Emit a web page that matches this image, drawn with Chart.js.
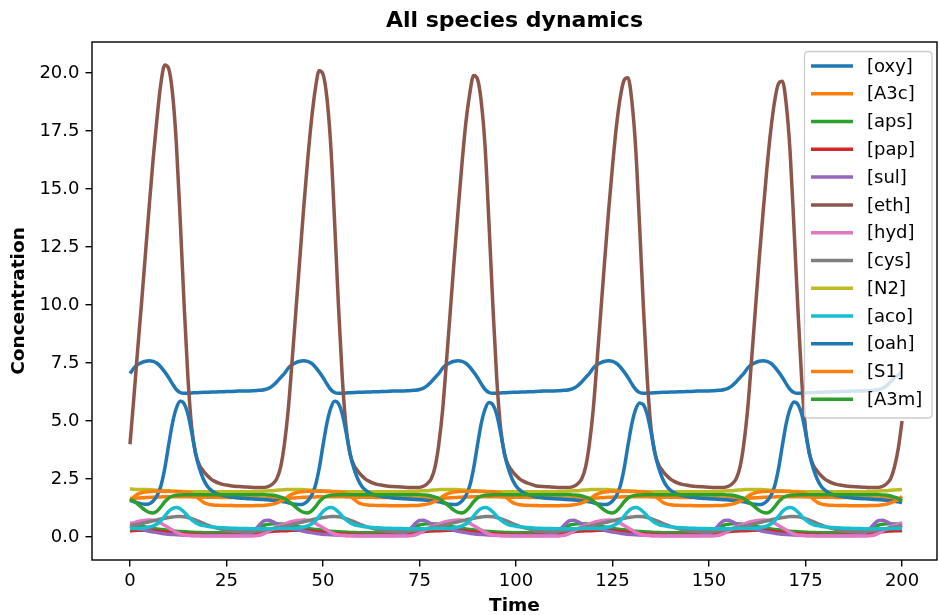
<!DOCTYPE html>
<html><head><meta charset="utf-8">
<script src="https://cdn.jsdelivr.net/npm/chart.js@4.4.1/dist/chart.umd.min.js"></script>
<style>html,body{margin:0;padding:0;background:#fff;}#wrap{width:939px;height:615px;position:relative;}</style>
</head><body><div id="wrap"><canvas id="c" width="939" height="615"></canvas></div>
<script>
const time = [
0,1,2,3,4,5,6,7,8,9,10,11,12,13,14,15,16,17,18,19,
20,21,22,23,24,25,26,27,28,29,30,31,32,33,34,35,36,37,38,39,
40,41,42,43,44,45,46,47,48,49,50,51,52,53,54,55,56,57,58,59,
60,61,62,63,64,65,66,67,68,69,70,71,72,73,74,75,76,77,78,79,
80,81,82,83,84,85,86,87,88,89,90,91,92,93,94,95,96,97,98,99,
100,101,102,103,104,105,106,107,108,109,110,111,112,113,114,115,116,117,118,119,
120,121,122,123,124,125,126,127,128,129,130,131,132,133,134,135,136,137,138,139,
140,141,142,143,144,145,146,147,148,149,150,151,152,153,154,155,156,157,158,159,
160,161,162,163,164,165,166,167,168,169,170,171,172,173,174,175,176,177,178,179,
180,181,182,183,184,185,186,187,188,189,190,191,192,193,194,195,196,197,198,199,
200];
const xTicks = [0,25,50,75,100,125,150,175,200];
const yTicks = [0,2.5,5,7.5,10,12.5,15,17.5,20];
const seriesNames = ['[oxy]','[A3c]','[aps]','[pap]','[sul]','[eth]','[hyd]','[cys]','[N2]','[aco]','[oah]','[S1]','[A3m]'];

const oxy = [
7.05,7.28,7.43,7.52,7.58,7.6,7.57,7.49,7.33,7.12,6.88,6.6,6.36,6.23,6.2,6.2,6.21,6.22,6.23,6.24,6.24,6.25,6.25,6.26,6.26,6.27,6.27,6.28,6.29,6.29,6.3,6.3,6.31,6.32,6.33,6.36,6.42,6.53,6.68,6.87,
7.05,7.28,7.43,7.52,7.58,7.6,7.57,7.49,7.33,7.12,6.88,6.6,6.36,6.23,6.2,6.2,6.21,6.22,6.23,6.24,6.24,6.25,6.25,6.26,6.26,6.27,6.27,6.28,6.29,6.29,6.3,6.3,6.31,6.32,6.33,6.36,6.42,6.53,6.68,6.87,
7.05,7.28,7.43,7.52,7.58,7.6,7.57,7.49,7.33,7.12,6.88,6.6,6.36,6.23,6.2,6.2,6.21,6.22,6.23,6.24,6.24,6.25,6.25,6.26,6.26,6.27,6.28,6.29,6.29,6.3,6.3,6.31,6.32,6.33,6.36,6.42,6.53,6.68,6.87,
7.05,7.28,7.43,7.52,7.58,7.6,7.57,7.49,7.33,7.12,6.88,6.6,6.36,6.23,6.2,6.2,6.21,6.22,6.23,6.24,6.24,6.25,6.25,6.26,6.26,6.27,6.27,6.28,6.29,6.29,6.3,6.3,6.31,6.32,6.33,6.36,6.42,6.53,6.68,6.87,
7.05,7.28,7.43,7.52,7.58,7.6,7.57,7.49,7.33,7.12,6.88,6.6,6.36,6.23,6.2,6.2,6.21,6.22,6.23,6.24,6.24,6.25,6.25,6.26,6.26,6.27,6.27,6.28,6.29,6.29,6.3,6.3,6.31,6.32,6.33,6.36,6.42,6.53,6.68,6.87,6.98,7.17];

const A3c = [
1.66,1.67,1.68,1.69,1.7,1.71,1.72,1.73,1.73,1.74,1.74,1.74,1.74,1.74,1.74,1.74,1.73,1.73,1.72,1.72,1.72,1.71,1.71,1.71,1.7,1.7,1.7,1.7,1.69,1.69,1.69,1.68,1.68,1.68,1.67,1.67,1.67,1.66,1.66,1.66,
1.66,1.67,1.68,1.69,1.7,1.71,1.72,1.73,1.73,1.74,1.74,1.74,1.74,1.74,1.74,1.74,1.73,1.73,1.72,1.72,1.72,1.71,1.71,1.71,1.7,1.7,1.7,1.7,1.69,1.69,1.69,1.68,1.68,1.68,1.67,1.67,1.67,1.66,1.66,1.66,
1.66,1.67,1.68,1.69,1.7,1.71,1.72,1.73,1.73,1.74,1.74,1.74,1.74,1.74,1.74,1.74,1.73,1.73,1.72,1.72,1.72,1.71,1.71,1.71,1.7,1.7,1.7,1.69,1.69,1.69,1.68,1.68,1.68,1.67,1.67,1.67,1.66,1.66,1.66,
1.66,1.67,1.68,1.69,1.7,1.71,1.72,1.73,1.73,1.74,1.74,1.74,1.74,1.74,1.74,1.74,1.73,1.73,1.72,1.72,1.72,1.71,1.71,1.71,1.7,1.7,1.7,1.7,1.69,1.69,1.69,1.68,1.68,1.68,1.67,1.67,1.67,1.66,1.66,1.66,
1.66,1.67,1.68,1.69,1.7,1.71,1.72,1.73,1.73,1.74,1.74,1.74,1.74,1.74,1.74,1.74,1.73,1.73,1.72,1.72,1.72,1.71,1.71,1.71,1.7,1.7,1.7,1.7,1.69,1.69,1.69,1.68,1.68,1.68,1.67,1.67,1.67,1.66,1.66,1.66,1.66,1.67];

const aps = [
0.55,0.52,0.49,0.46,0.43,0.4,0.37,0.35,0.33,0.31,0.29,0.27,0.25,0.24,0.23,0.22,0.21,0.2,0.2,0.19,0.19,0.19,0.19,0.19,0.19,0.19,0.2,0.2,0.21,0.22,0.24,0.27,0.32,0.39,0.46,0.52,0.55,0.57,0.57,0.56,
0.55,0.52,0.49,0.46,0.43,0.4,0.37,0.35,0.33,0.31,0.29,0.27,0.25,0.24,0.23,0.22,0.21,0.2,0.2,0.19,0.19,0.19,0.19,0.19,0.19,0.19,0.2,0.2,0.21,0.22,0.24,0.27,0.32,0.39,0.46,0.52,0.55,0.57,0.57,0.56,
0.55,0.52,0.49,0.46,0.43,0.4,0.37,0.35,0.33,0.31,0.29,0.27,0.25,0.24,0.23,0.22,0.21,0.2,0.2,0.19,0.19,0.19,0.19,0.19,0.19,0.2,0.2,0.21,0.22,0.24,0.27,0.32,0.39,0.46,0.52,0.55,0.57,0.57,0.56,
0.55,0.52,0.49,0.46,0.43,0.4,0.37,0.35,0.33,0.31,0.29,0.27,0.25,0.24,0.23,0.22,0.21,0.2,0.2,0.19,0.19,0.19,0.19,0.19,0.19,0.19,0.2,0.2,0.21,0.22,0.24,0.27,0.32,0.39,0.46,0.52,0.55,0.57,0.57,0.56,
0.55,0.52,0.49,0.46,0.43,0.4,0.37,0.35,0.33,0.31,0.29,0.27,0.25,0.24,0.23,0.22,0.21,0.2,0.2,0.19,0.19,0.19,0.19,0.19,0.19,0.19,0.2,0.2,0.21,0.22,0.24,0.27,0.32,0.39,0.46,0.52,0.55,0.57,0.57,0.56,0.55,0.52];

const pap = [
0.27,0.28,0.29,0.29,0.29,0.28,0.27,0.26,0.24,0.22,0.2,0.18,0.17,0.15,0.14,0.13,0.12,0.11,0.1,0.1,0.09,0.09,0.09,0.09,0.09,0.09,0.09,0.09,0.09,0.09,0.09,0.1,0.12,0.15,0.18,0.21,0.23,0.25,0.26,0.27,
0.27,0.28,0.29,0.29,0.29,0.28,0.27,0.26,0.24,0.22,0.2,0.18,0.17,0.15,0.14,0.13,0.12,0.11,0.1,0.1,0.09,0.09,0.09,0.09,0.09,0.09,0.09,0.09,0.09,0.09,0.09,0.1,0.12,0.15,0.18,0.21,0.23,0.25,0.26,0.27,
0.27,0.28,0.29,0.29,0.29,0.28,0.27,0.26,0.24,0.22,0.2,0.18,0.17,0.15,0.14,0.13,0.12,0.11,0.1,0.1,0.09,0.09,0.09,0.09,0.09,0.09,0.09,0.09,0.09,0.09,0.1,0.12,0.15,0.18,0.21,0.23,0.25,0.26,0.27,
0.27,0.28,0.29,0.29,0.29,0.28,0.27,0.26,0.24,0.22,0.2,0.18,0.17,0.15,0.14,0.13,0.12,0.11,0.1,0.1,0.09,0.09,0.09,0.09,0.09,0.09,0.09,0.09,0.09,0.09,0.09,0.1,0.12,0.15,0.18,0.21,0.23,0.25,0.26,0.27,
0.27,0.28,0.29,0.29,0.29,0.28,0.27,0.26,0.24,0.22,0.2,0.18,0.17,0.15,0.14,0.13,0.12,0.11,0.1,0.1,0.09,0.09,0.09,0.09,0.09,0.09,0.09,0.09,0.09,0.09,0.09,0.1,0.12,0.15,0.18,0.21,0.23,0.25,0.26,0.27,0.27,0.28];

const sul = [
0.46,0.41,0.37,0.33,0.29,0.25,0.22,0.19,0.16,0.14,0.12,0.11,0.1,0.09,0.08,0.08,0.07,0.07,0.07,0.07,0.07,0.07,0.07,0.07,0.07,0.07,0.07,0.07,0.07,0.08,0.1,0.15,0.25,0.42,0.6,0.71,0.72,0.66,0.58,0.51,
0.46,0.41,0.37,0.33,0.29,0.25,0.22,0.19,0.16,0.14,0.12,0.11,0.1,0.09,0.08,0.08,0.07,0.07,0.07,0.07,0.07,0.07,0.07,0.07,0.07,0.07,0.07,0.07,0.07,0.08,0.1,0.15,0.25,0.42,0.6,0.71,0.72,0.66,0.58,0.51,
0.46,0.41,0.37,0.33,0.29,0.25,0.22,0.19,0.16,0.14,0.12,0.11,0.1,0.09,0.08,0.08,0.07,0.07,0.07,0.07,0.07,0.07,0.07,0.07,0.07,0.07,0.07,0.07,0.08,0.1,0.15,0.25,0.42,0.6,0.71,0.72,0.66,0.58,0.51,
0.46,0.41,0.37,0.33,0.29,0.25,0.22,0.19,0.16,0.14,0.12,0.11,0.1,0.09,0.08,0.08,0.07,0.07,0.07,0.07,0.07,0.07,0.07,0.07,0.07,0.07,0.07,0.07,0.07,0.08,0.1,0.15,0.25,0.42,0.6,0.71,0.72,0.66,0.58,0.51,
0.46,0.41,0.37,0.33,0.29,0.25,0.22,0.19,0.16,0.14,0.12,0.11,0.1,0.09,0.08,0.08,0.07,0.07,0.07,0.07,0.07,0.07,0.07,0.07,0.07,0.07,0.07,0.07,0.07,0.08,0.1,0.15,0.25,0.42,0.6,0.71,0.72,0.66,0.58,0.51,0.46,0.41];

const eth = [
4.0,6.0,8.1,10.1,12.2,14.3,16.3,18.05,19.55,20.35,20.2,19.15,17.0,13.7,10.1,6.9,4.7,3.6,3.1,2.85,2.65,2.5,2.4,2.32,2.27,2.24,2.21,2.19,2.18,2.17,2.16,2.15,2.14,2.13,2.13,2.14,2.19,2.3,2.5,3.0,
4.0,5.5,7.6,9.8,12.0,14.2,16.2,17.95,19.3,20.1,19.95,18.95,16.9,13.6,10.0,6.85,4.7,3.6,3.1,2.85,2.65,2.5,2.4,2.32,2.27,2.24,2.21,2.19,2.18,2.17,2.16,2.15,2.14,2.13,2.13,2.14,2.19,2.3,2.5,3.0,
4.0,5.5,7.6,9.8,12.0,14.1,16.1,17.85,19.1,19.9,19.75,18.75,16.8,13.5,10.0,6.85,4.7,3.6,3.1,2.85,2.65,2.5,2.4,2.32,2.27,2.21,2.19,2.18,2.17,2.16,2.15,2.14,2.13,2.13,2.14,2.19,2.3,2.5,3.0,
4.0,5.5,7.6,9.8,12.0,14.1,16.0,17.7,18.95,19.7,19.8,18.8,16.75,13.45,9.9,6.8,4.65,3.6,3.1,2.85,2.65,2.5,2.4,2.32,2.27,2.24,2.21,2.19,2.18,2.17,2.16,2.15,2.14,2.13,2.13,2.14,2.19,2.3,2.5,3.0,
4.0,5.5,7.6,9.8,12.0,14.0,15.9,17.55,18.8,19.55,19.65,18.65,16.6,13.35,9.9,6.8,4.65,3.6,3.1,2.85,2.65,2.5,2.4,2.32,2.27,2.24,2.21,2.19,2.18,2.17,2.16,2.15,2.14,2.13,2.13,2.14,2.19,2.3,2.5,3.0,3.8,5.0];

const hyd = [
0.59,0.62,0.67,0.7,0.72,0.73,0.72,0.68,0.6,0.5,0.4,0.3,0.2,0.13,0.09,0.07,0.06,0.05,0.05,0.04,0.04,0.04,0.04,0.04,0.04,0.04,0.04,0.04,0.04,0.04,0.04,0.04,0.04,0.06,0.1,0.17,0.26,0.35,0.43,0.5,
0.55,0.62,0.67,0.7,0.72,0.73,0.72,0.68,0.6,0.5,0.4,0.3,0.2,0.13,0.09,0.07,0.06,0.05,0.05,0.04,0.04,0.04,0.04,0.04,0.04,0.04,0.04,0.04,0.04,0.04,0.04,0.04,0.04,0.06,0.1,0.17,0.26,0.35,0.43,0.5,
0.55,0.62,0.67,0.7,0.72,0.73,0.72,0.68,0.6,0.5,0.4,0.3,0.2,0.13,0.09,0.07,0.06,0.05,0.05,0.04,0.04,0.04,0.04,0.04,0.04,0.04,0.04,0.04,0.04,0.04,0.04,0.04,0.06,0.1,0.17,0.26,0.35,0.43,0.5,
0.55,0.62,0.67,0.7,0.72,0.73,0.72,0.68,0.6,0.5,0.4,0.3,0.2,0.13,0.09,0.07,0.06,0.05,0.05,0.04,0.04,0.04,0.04,0.04,0.04,0.04,0.04,0.04,0.04,0.04,0.04,0.04,0.04,0.06,0.1,0.17,0.26,0.35,0.43,0.5,
0.55,0.62,0.67,0.7,0.72,0.73,0.72,0.68,0.6,0.5,0.4,0.3,0.2,0.13,0.09,0.07,0.06,0.05,0.05,0.04,0.04,0.04,0.04,0.04,0.04,0.04,0.04,0.04,0.04,0.04,0.04,0.04,0.04,0.06,0.1,0.17,0.26,0.35,0.43,0.5,0.55,0.62];

const cys = [
0.5,0.52,0.55,0.58,0.62,0.66,0.7,0.74,0.78,0.81,0.84,0.86,0.88,0.88,0.87,0.84,0.79,0.73,0.66,0.59,0.52,0.46,0.41,0.36,0.32,0.29,0.27,0.25,0.24,0.23,0.23,0.23,0.24,0.26,0.28,0.31,0.34,0.37,0.4,0.43,
0.46,0.5,0.54,0.58,0.62,0.66,0.7,0.74,0.78,0.81,0.84,0.86,0.88,0.88,0.87,0.84,0.79,0.73,0.66,0.59,0.52,0.46,0.41,0.36,0.32,0.29,0.27,0.25,0.24,0.23,0.23,0.23,0.24,0.26,0.28,0.31,0.34,0.37,0.4,0.43,
0.46,0.5,0.54,0.58,0.62,0.66,0.7,0.74,0.78,0.81,0.84,0.86,0.88,0.88,0.87,0.84,0.79,0.73,0.66,0.59,0.52,0.46,0.41,0.36,0.32,0.27,0.25,0.24,0.23,0.23,0.23,0.24,0.26,0.28,0.31,0.34,0.37,0.4,0.43,
0.46,0.5,0.54,0.58,0.62,0.66,0.7,0.74,0.78,0.81,0.84,0.86,0.88,0.88,0.87,0.84,0.79,0.73,0.66,0.59,0.52,0.46,0.41,0.36,0.32,0.29,0.27,0.25,0.24,0.23,0.23,0.23,0.24,0.26,0.28,0.31,0.34,0.37,0.4,0.43,
0.46,0.5,0.54,0.58,0.62,0.66,0.7,0.74,0.78,0.81,0.84,0.86,0.88,0.88,0.87,0.84,0.79,0.73,0.66,0.59,0.52,0.46,0.41,0.36,0.32,0.29,0.27,0.25,0.24,0.23,0.23,0.23,0.24,0.26,0.28,0.31,0.34,0.37,0.4,0.43,0.46,0.5];

const N2 = [
2.08,2.06,2.05,2.05,2.05,2.04,2.03,2.02,2.01,2.0,1.99,1.98,1.97,1.96,1.96,1.95,1.95,1.95,1.95,1.95,1.95,1.95,1.95,1.95,1.95,1.95,1.95,1.95,1.95,1.95,1.95,1.95,1.96,1.96,1.97,1.98,1.99,2.0,2.02,2.03,
2.04,2.05,2.05,2.05,2.05,2.04,2.03,2.02,2.01,2.0,1.99,1.98,1.97,1.96,1.96,1.95,1.95,1.95,1.95,1.95,1.95,1.95,1.95,1.95,1.95,1.95,1.95,1.95,1.95,1.95,1.95,1.95,1.96,1.96,1.97,1.98,1.99,2.0,2.02,2.03,
2.04,2.05,2.05,2.05,2.05,2.04,2.03,2.02,2.01,2.0,1.99,1.98,1.97,1.96,1.96,1.95,1.95,1.95,1.95,1.95,1.95,1.95,1.95,1.95,1.95,1.95,1.95,1.95,1.95,1.95,1.95,1.96,1.96,1.97,1.98,1.99,2.0,2.02,2.03,
2.04,2.05,2.05,2.05,2.05,2.04,2.03,2.02,2.01,2.0,1.99,1.98,1.97,1.96,1.96,1.95,1.95,1.95,1.95,1.95,1.95,1.95,1.95,1.95,1.95,1.95,1.95,1.95,1.95,1.95,1.95,1.95,1.96,1.96,1.97,1.98,1.99,2.0,2.02,2.03,
2.04,2.05,2.05,2.05,2.05,2.04,2.03,2.02,2.01,2.0,1.99,1.98,1.97,1.96,1.96,1.95,1.95,1.95,1.95,1.95,1.95,1.95,1.95,1.95,1.95,1.95,1.95,1.95,1.95,1.95,1.95,1.95,1.96,1.96,1.97,1.98,1.99,2.0,2.02,2.03,2.04,2.05];

const aco = [
0.37,0.37,0.37,0.38,0.4,0.43,0.48,0.56,0.7,0.9,1.1,1.23,1.27,1.22,1.08,0.9,0.74,0.62,0.54,0.49,0.46,0.44,0.42,0.41,0.4,0.39,0.38,0.38,0.37,0.37,0.37,0.36,0.36,0.36,0.36,0.36,0.36,0.36,0.36,0.37,
0.37,0.37,0.37,0.38,0.4,0.43,0.48,0.56,0.7,0.9,1.1,1.23,1.27,1.22,1.08,0.9,0.74,0.62,0.54,0.49,0.46,0.44,0.42,0.41,0.4,0.39,0.38,0.38,0.37,0.37,0.37,0.36,0.36,0.36,0.36,0.36,0.36,0.36,0.36,0.37,
0.37,0.37,0.37,0.38,0.4,0.43,0.48,0.56,0.7,0.9,1.1,1.23,1.27,1.22,1.08,0.9,0.74,0.62,0.54,0.49,0.46,0.44,0.42,0.41,0.4,0.38,0.38,0.37,0.37,0.37,0.36,0.36,0.36,0.36,0.36,0.36,0.36,0.36,0.37,
0.37,0.37,0.37,0.38,0.4,0.43,0.48,0.56,0.7,0.9,1.1,1.23,1.27,1.22,1.08,0.9,0.74,0.62,0.54,0.49,0.46,0.44,0.42,0.41,0.4,0.39,0.38,0.38,0.37,0.37,0.37,0.36,0.36,0.36,0.36,0.36,0.36,0.36,0.36,0.37,
0.37,0.37,0.37,0.38,0.4,0.43,0.48,0.56,0.7,0.9,1.1,1.23,1.27,1.22,1.08,0.9,0.74,0.62,0.54,0.49,0.46,0.44,0.42,0.41,0.4,0.39,0.38,0.38,0.37,0.37,0.37,0.36,0.36,0.36,0.36,0.36,0.36,0.36,0.36,0.37,0.37,0.37];

const oah = [
1.58,1.52,1.47,1.43,1.41,1.43,1.55,1.78,2.2,2.95,3.95,4.9,5.55,5.85,5.75,5.3,4.5,3.6,2.95,2.5,2.2,2.02,1.91,1.84,1.79,1.76,1.73,1.71,1.69,1.67,1.66,1.65,1.64,1.63,1.62,1.61,1.6,1.58,1.56,1.54,
1.52,1.48,1.44,1.41,1.4,1.43,1.55,1.78,2.2,2.95,3.95,4.9,5.55,5.85,5.75,5.3,4.5,3.6,2.95,2.5,2.2,2.02,1.91,1.84,1.79,1.76,1.73,1.71,1.69,1.67,1.66,1.65,1.64,1.63,1.62,1.61,1.6,1.58,1.56,1.54,
1.52,1.48,1.44,1.41,1.4,1.43,1.55,1.78,2.2,2.95,3.95,4.9,5.52,5.8,5.7,5.28,4.5,3.6,2.95,2.5,2.2,2.02,1.91,1.84,1.79,1.73,1.71,1.69,1.67,1.66,1.65,1.64,1.63,1.62,1.61,1.6,1.58,1.56,1.54,
1.52,1.48,1.44,1.41,1.4,1.43,1.55,1.78,2.2,2.95,3.95,4.88,5.5,5.78,5.7,5.27,4.5,3.6,2.95,2.5,2.2,2.02,1.91,1.84,1.79,1.76,1.73,1.71,1.69,1.67,1.66,1.65,1.64,1.63,1.62,1.61,1.6,1.58,1.56,1.54,
1.52,1.48,1.44,1.41,1.4,1.43,1.55,1.78,2.2,2.95,3.95,4.9,5.53,5.82,5.72,5.3,4.5,3.6,2.95,2.5,2.2,2.02,1.91,1.84,1.79,1.76,1.73,1.71,1.69,1.67,1.66,1.65,1.64,1.63,1.62,1.61,1.6,1.58,1.56,1.54,1.52,1.48];

const S1 = [
1.55,1.72,1.85,1.91,1.94,1.96,1.97,1.97,1.97,1.97,1.97,1.96,1.96,1.95,1.94,1.93,1.88,1.78,1.63,1.5,1.43,1.39,1.37,1.37,1.36,1.36,1.36,1.35,1.35,1.35,1.35,1.35,1.35,1.36,1.36,1.37,1.39,1.42,1.47,1.54,
1.62,1.75,1.85,1.91,1.94,1.96,1.97,1.97,1.97,1.97,1.97,1.96,1.96,1.95,1.94,1.93,1.88,1.78,1.63,1.5,1.43,1.39,1.37,1.37,1.36,1.36,1.36,1.35,1.35,1.35,1.35,1.35,1.35,1.36,1.36,1.37,1.39,1.42,1.47,1.54,
1.62,1.75,1.85,1.91,1.94,1.96,1.97,1.97,1.97,1.97,1.97,1.96,1.96,1.95,1.94,1.93,1.88,1.78,1.63,1.5,1.43,1.39,1.37,1.37,1.36,1.36,1.35,1.35,1.35,1.35,1.35,1.35,1.36,1.36,1.37,1.39,1.42,1.47,1.54,
1.62,1.75,1.85,1.91,1.94,1.96,1.97,1.97,1.97,1.97,1.97,1.96,1.96,1.95,1.94,1.93,1.88,1.78,1.63,1.5,1.43,1.39,1.37,1.37,1.36,1.36,1.36,1.35,1.35,1.35,1.35,1.35,1.35,1.36,1.36,1.37,1.39,1.42,1.47,1.54,
1.62,1.75,1.85,1.91,1.94,1.96,1.97,1.97,1.97,1.97,1.97,1.96,1.96,1.95,1.94,1.93,1.88,1.78,1.63,1.5,1.43,1.39,1.37,1.37,1.36,1.36,1.36,1.35,1.35,1.35,1.35,1.35,1.35,1.36,1.36,1.37,1.39,1.42,1.47,1.54,1.62,1.75];

const A3m = [
1.62,1.55,1.42,1.28,1.15,1.06,1.04,1.12,1.3,1.52,1.68,1.76,1.8,1.81,1.82,1.82,1.82,1.82,1.82,1.82,1.82,1.82,1.82,1.82,1.82,1.82,1.82,1.82,1.82,1.82,1.82,1.82,1.82,1.82,1.82,1.82,1.81,1.8,1.77,1.72,
1.66,1.55,1.42,1.28,1.15,1.06,1.04,1.12,1.3,1.52,1.68,1.76,1.8,1.81,1.82,1.82,1.82,1.82,1.82,1.82,1.82,1.82,1.82,1.82,1.82,1.82,1.82,1.82,1.82,1.82,1.82,1.82,1.82,1.82,1.82,1.82,1.81,1.8,1.77,1.72,
1.66,1.55,1.42,1.28,1.15,1.06,1.04,1.12,1.3,1.52,1.68,1.76,1.8,1.81,1.82,1.82,1.82,1.82,1.82,1.82,1.82,1.82,1.82,1.82,1.82,1.82,1.82,1.82,1.82,1.82,1.82,1.82,1.82,1.82,1.82,1.81,1.8,1.77,1.72,
1.66,1.55,1.42,1.28,1.15,1.06,1.04,1.12,1.3,1.52,1.68,1.76,1.8,1.81,1.82,1.82,1.82,1.82,1.82,1.82,1.82,1.82,1.82,1.82,1.82,1.82,1.82,1.82,1.82,1.82,1.82,1.82,1.82,1.82,1.82,1.82,1.81,1.8,1.77,1.72,
1.66,1.55,1.42,1.28,1.15,1.06,1.04,1.12,1.3,1.52,1.68,1.76,1.8,1.81,1.82,1.82,1.82,1.82,1.82,1.82,1.82,1.82,1.82,1.82,1.82,1.82,1.82,1.82,1.82,1.82,1.82,1.82,1.82,1.82,1.82,1.82,1.81,1.8,1.77,1.72,1.66,1.55];

const seriesList = [oxy, A3c, aps, pap, sul, eth, hyd, cys, N2, aco, oah, S1, A3m];
const colors = ['#1f77b4','#ff7f0e','#2ca02c','#d62728','#9467bd','#8c564b','#e377c2','#7f7f7f','#bcbd22','#17becf','#1f77b4','#ff7f0e','#2ca02c'];
const FONT = "'DejaVu Sans', sans-serif";
const LW = 3.5;

const datasets = seriesList.map((s, i) => ({
  label: seriesNames[i],
  data: time.map((t, j) => ({x: t, y: s[j]})),
  borderColor: colors[i],
  backgroundColor: colors[i],
  borderWidth: LW,
  pointRadius: 0,
  pointHoverRadius: 0,
  fill: false,
  cubicInterpolationMode: 'monotone',
  borderJoinStyle: 'round',
  order: seriesList.length - i
}));

const framePlugin = {
  id: 'frame',
  afterDatasetsDraw(chart) {
    const {ctx, chartArea: a} = chart;
    ctx.save();
    ctx.strokeStyle = '#000';
    ctx.lineWidth = 1.4;
    ctx.strokeRect(a.left, a.top, a.right - a.left, a.bottom - a.top);
    ctx.restore();
  }
};

const titlePlugin = {
  id: 'mplTitle',
  afterDraw(chart) {
    const {ctx, chartArea: a} = chart;
    ctx.save();
    ctx.fillStyle = '#000';
    ctx.font = 'bold 22px ' + FONT;
    ctx.textAlign = 'center';
    ctx.textBaseline = 'middle';
    ctx.fillText('All species dynamics', (a.left + a.right) / 2, 21);
    ctx.restore();
  }
};

const legendPlugin = {
  id: 'mplLegend',
  afterDraw(chart) {
    const ctx = chart.ctx;
    ctx.save();
    const x0 = 804.5, y0 = 51.5, w = 127.5, h = 366.5, r = 4;
    ctx.beginPath();
    ctx.moveTo(x0 + r, y0);
    ctx.lineTo(x0 + w - r, y0);
    ctx.quadraticCurveTo(x0 + w, y0, x0 + w, y0 + r);
    ctx.lineTo(x0 + w, y0 + h - r);
    ctx.quadraticCurveTo(x0 + w, y0 + h, x0 + w - r, y0 + h);
    ctx.lineTo(x0 + r, y0 + h);
    ctx.quadraticCurveTo(x0, y0 + h, x0, y0 + h - r);
    ctx.lineTo(x0, y0 + r);
    ctx.quadraticCurveTo(x0, y0, x0 + r, y0);
    ctx.closePath();
    ctx.fillStyle = 'rgba(255,255,255,0.8)';
    ctx.fill();
    ctx.strokeStyle = '#cccccc';
    ctx.lineWidth = 1.3;
    ctx.stroke();
    ctx.font = '18px ' + FONT;
    ctx.textBaseline = 'middle';
    ctx.textAlign = 'left';
    for (let i = 0; i < seriesNames.length; i++) {
      const y = 66 + i * 27.78;
      ctx.beginPath();
      ctx.moveTo(811, y);
      ctx.lineTo(853, y);
      ctx.strokeStyle = colors[i];
      ctx.lineWidth = LW;
      ctx.stroke();
      ctx.fillStyle = '#000';
      ctx.fillText(seriesNames[i], 867, y + 1);
    }
    ctx.restore();
  }
};

new Chart(document.getElementById('c'), {
  type: 'line',
  data: { datasets },
  options: {
    responsive: false,
    animation: false,
    devicePixelRatio: 1,
    layout: { padding: { top: 42, right: 2, bottom: 0, left: 0 } },
    plugins: { legend: { display: false }, tooltip: { enabled: false }, title: { display: false } },
    scales: {
      x: {
        type: 'linear', min: -9.84, max: 209.05,
        afterBuildTicks: s => { s.ticks = xTicks.map(v => ({ value: v })); },
        afterFit: s => { s.height = 55; },
        grid: { display: true, drawOnChartArea: false, drawTicks: true, tickLength: 6.5, color: '#000', lineWidth: 1.4 },
        border: { display: false },
        ticks: { color: '#000', font: { family: FONT, size: 18 }, padding: 4, maxRotation: 0, autoSkip: false, callback: v => String(v) },
        title: { display: true, text: 'Time', color: '#000', font: { family: FONT, size: 18.5, weight: 'bold' }, padding: { top: 0, bottom: -2 } }
      },
      y: {
        type: 'linear', min: -0.99, max: 21.34,
        afterBuildTicks: s => { s.ticks = yTicks.map(v => ({ value: v })); },
        afterFit: s => { s.width = 92; },
        grid: { display: true, drawOnChartArea: false, drawTicks: true, tickLength: 6.5, color: '#000', lineWidth: 1.4 },
        border: { display: false },
        ticks: { color: '#000', font: { family: FONT, size: 18 }, padding: 6, autoSkip: false, callback: v => Number(v).toFixed(1) },
        title: { display: true, text: 'Concentration', color: '#000', font: { family: FONT, size: 18.5, weight: 'bold' }, padding: { top: 8, bottom: 0 } }
      }
    }
  },
  plugins: [framePlugin, titlePlugin, legendPlugin]
});
</script>
</body></html>
